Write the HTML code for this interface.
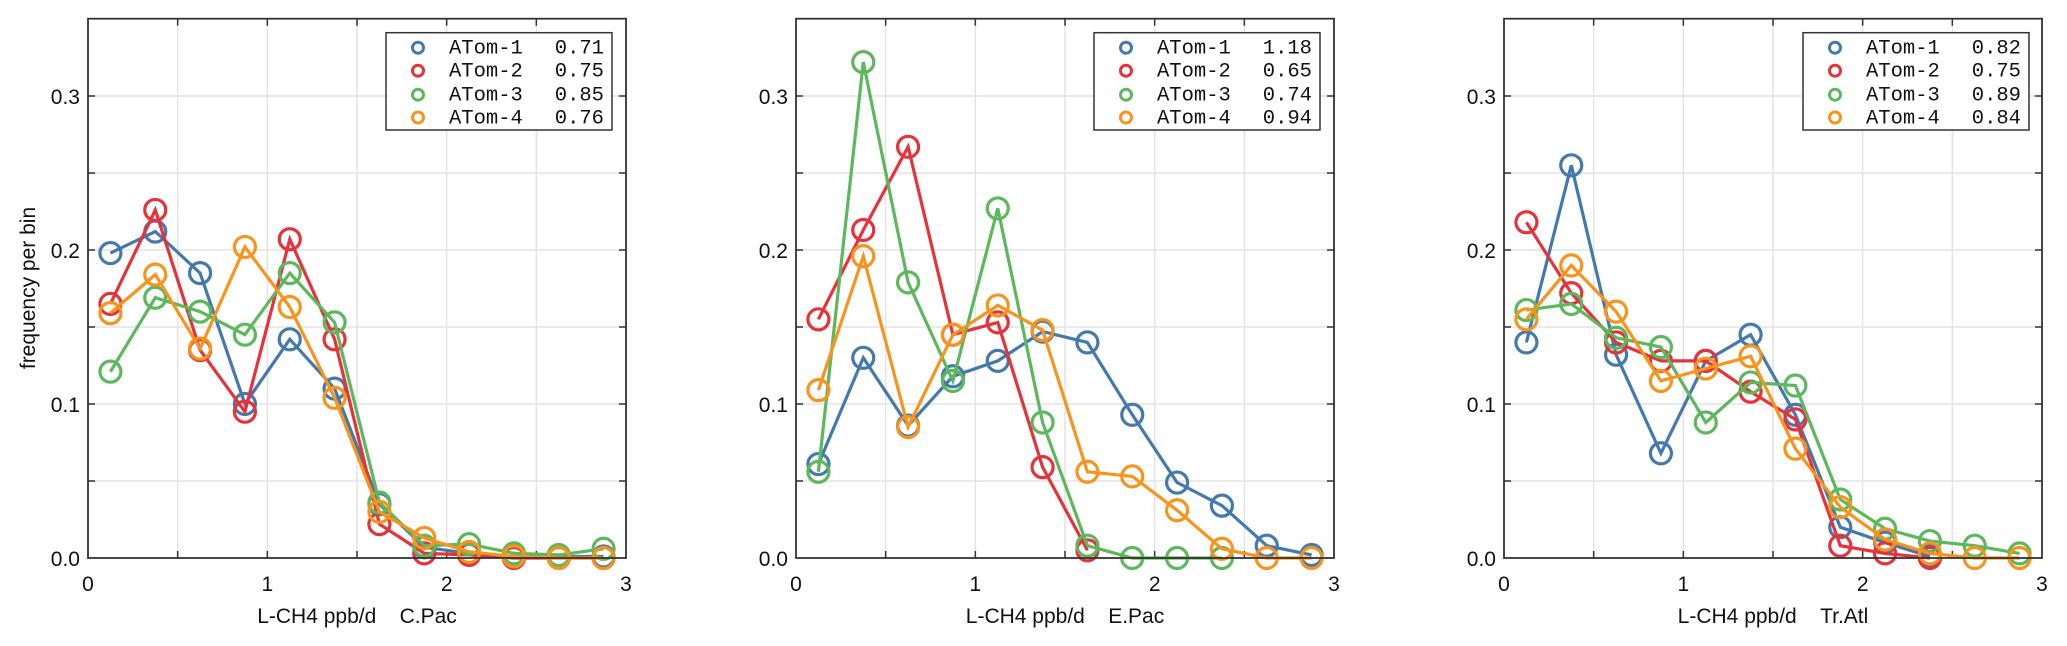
<!DOCTYPE html>
<html><head><meta charset="utf-8">
<style>
html,body{margin:0;padding:0;background:#fff;}
svg{display:block;}
text{font-family:"Liberation Sans",Arial,sans-serif;fill:#111;}
.mono{font-family:"Liberation Mono","Courier New",monospace;}
</style></head>
<body>
<svg id="s" width="2067" height="646" viewBox="0 0 2067 646" xmlns="http://www.w3.org/2000/svg"></svg>
<script>
var S=document.getElementById('s');
var ns='http://www.w3.org/2000/svg';
function el(t,a,txt){var e=document.createElementNS(ns,t);for(var k in a)e.setAttribute(k,a[k]);if(txt!==undefined)e.textContent=txt;S.appendChild(e);return e;}
var C=['#4479ad','#e6323a','#5cb85c','#f7941d'];
var T=558,TOP=18.7,YS=1540;
var panels=[
 {x0:88,x1:626,name:'C.Pac',leg:[386,612],vals:['0.71','0.75','0.85','0.76'],ylab:true,
  d:[[0.198,0.212,0.185,0.100,0.142,0.110,0.035,0.007,0.003,0.001,0.001,0.001],
     [0.165,0.226,0.135,0.095,0.207,0.142,0.022,0.003,0.002,0.000,0.000,0.000],
     [0.121,0.169,0.160,0.145,0.185,0.153,0.036,0.008,0.009,0.003,0.002,0.006],
     [0.159,0.184,0.136,0.202,0.163,0.104,0.030,0.013,0.004,0.001,0.000,0.000]]},
 {x0:796,x1:1334,name:'E.Pac',leg:[1094,1320],vals:['1.18','0.65','0.74','0.94'],
  d:[[0.061,0.130,0.086,0.118,0.128,0.147,0.140,0.093,0.049,0.034,0.008,0.002],
     [0.155,0.213,0.267,0.145,0.153,0.059,0.005,null,null,null,null,null],
     [0.056,0.322,0.179,0.115,0.227,0.088,0.008,0.000,0.000,0.000,null,null],
     [0.109,0.196,0.085,0.145,0.164,0.148,0.056,0.053,0.031,0.006,0.000,0.000]]},
 {x0:1504,x1:2042,name:'Tr.Atl',leg:[1803,2029],vals:['0.82','0.75','0.89','0.84'],
  d:[[0.140,0.255,0.132,0.068,0.128,0.145,0.093,0.020,0.010,0.001,null,null],
     [0.218,0.172,0.140,0.128,0.128,0.108,0.090,0.008,0.003,0.000,null,null],
     [0.161,0.165,0.143,0.137,0.088,0.114,0.112,0.038,0.019,0.011,0.008,0.003],
     [0.155,0.190,0.160,0.115,0.123,0.131,0.071,0.033,0.012,0.003,0.000,0.000]]}
];
panels.forEach(function(p){
 var xs=(p.x1-p.x0)/3;
 function X(v){return p.x0+v*xs;} function Y(v){return T-v*YS;}
 for(var i=1;i<6;i++){var gx=X(i*0.5);el('line',{x1:gx,y1:TOP,x2:gx,y2:T,stroke:'#e4e4e4','stroke-width':1.5});}
 for(var j=1;j<7;j++){var gy=Y(j*0.05);el('line',{x1:p.x0,y1:gy,x2:p.x1,y2:gy,stroke:'#e4e4e4','stroke-width':1.5});}
 for(var i=1;i<6;i++){var gx=X(i*0.5);el('line',{x1:gx,y1:T,x2:gx,y2:T-7,stroke:'#333','stroke-width':1.5});el('line',{x1:gx,y1:TOP,x2:gx,y2:TOP+7,stroke:'#333','stroke-width':1.5});}
 for(var j=1;j<7;j++){var gy=Y(j*0.05);el('line',{x1:p.x0,y1:gy,x2:p.x0+7,y2:gy,stroke:'#333','stroke-width':1.5});el('line',{x1:p.x1,y1:gy,x2:p.x1-7,y2:gy,stroke:'#333','stroke-width':1.5});}
 for(var i=0;i<4;i++)el('text',{x:X(i),y:591,'font-size':21,'text-anchor':'middle'},String(i));
 ['0.0','0.1','0.2','0.3'].forEach(function(t,j){el('text',{x:p.x0-8,y:Y(j*0.1)+8,'font-size':21,'text-anchor':'end'},t);});
 el('text',{x:(p.x0+p.x1)/2,y:623,'font-size':21,'text-anchor':'middle'},'L-CH4 ppb/d\u00a0\u00a0\u00a0\u00a0'+p.name);
 if(p.ylab){el('text',{x:0,y:0,'font-size':21,'text-anchor':'middle',transform:'translate(35,288) rotate(-90)'},'frequency per bin');}
 p.d.forEach(function(ser,k){
  var pts=[];ser.forEach(function(v,i){if(v!==null)pts.push([X(0.125+0.25*i),Y(v)]);});
  el('polyline',{points:pts.map(function(q){return q[0].toFixed(1)+','+q[1].toFixed(1);}).join(' '),fill:'none',stroke:C[k],'stroke-width':3.2,'stroke-linejoin':'miter'});
  pts.forEach(function(q){el('circle',{cx:q[0],cy:q[1],r:10.5,fill:'none',stroke:C[k],'stroke-width':3.2});});
 });
 el('rect',{x:p.x0,y:TOP,width:p.x1-p.x0,height:T-TOP,fill:'none',stroke:'#333','stroke-width':1.8});
 var lx0=p.leg[0],lx1=p.leg[1];
 el('rect',{x:lx0,y:32.7,width:lx1-lx0,height:97.3,fill:'#fff',stroke:'#333','stroke-width':1.5});
 var rows=[47.7,70.7,94.7,117.5];
 rows.forEach(function(ry,k){
  el('circle',{cx:lx0+32,cy:ry,r:5.5,fill:'none',stroke:C[k],'stroke-width':3});
  el('text',{x:lx0+63,y:ry+6,'font-size':20.5,'class':'mono'},'ATom-'+(k+1));
  el('text',{x:lx1-8,y:ry+6,'font-size':20.5,'class':'mono','text-anchor':'end'},p.vals[k]);
 });
});
</script>
</body></html>
